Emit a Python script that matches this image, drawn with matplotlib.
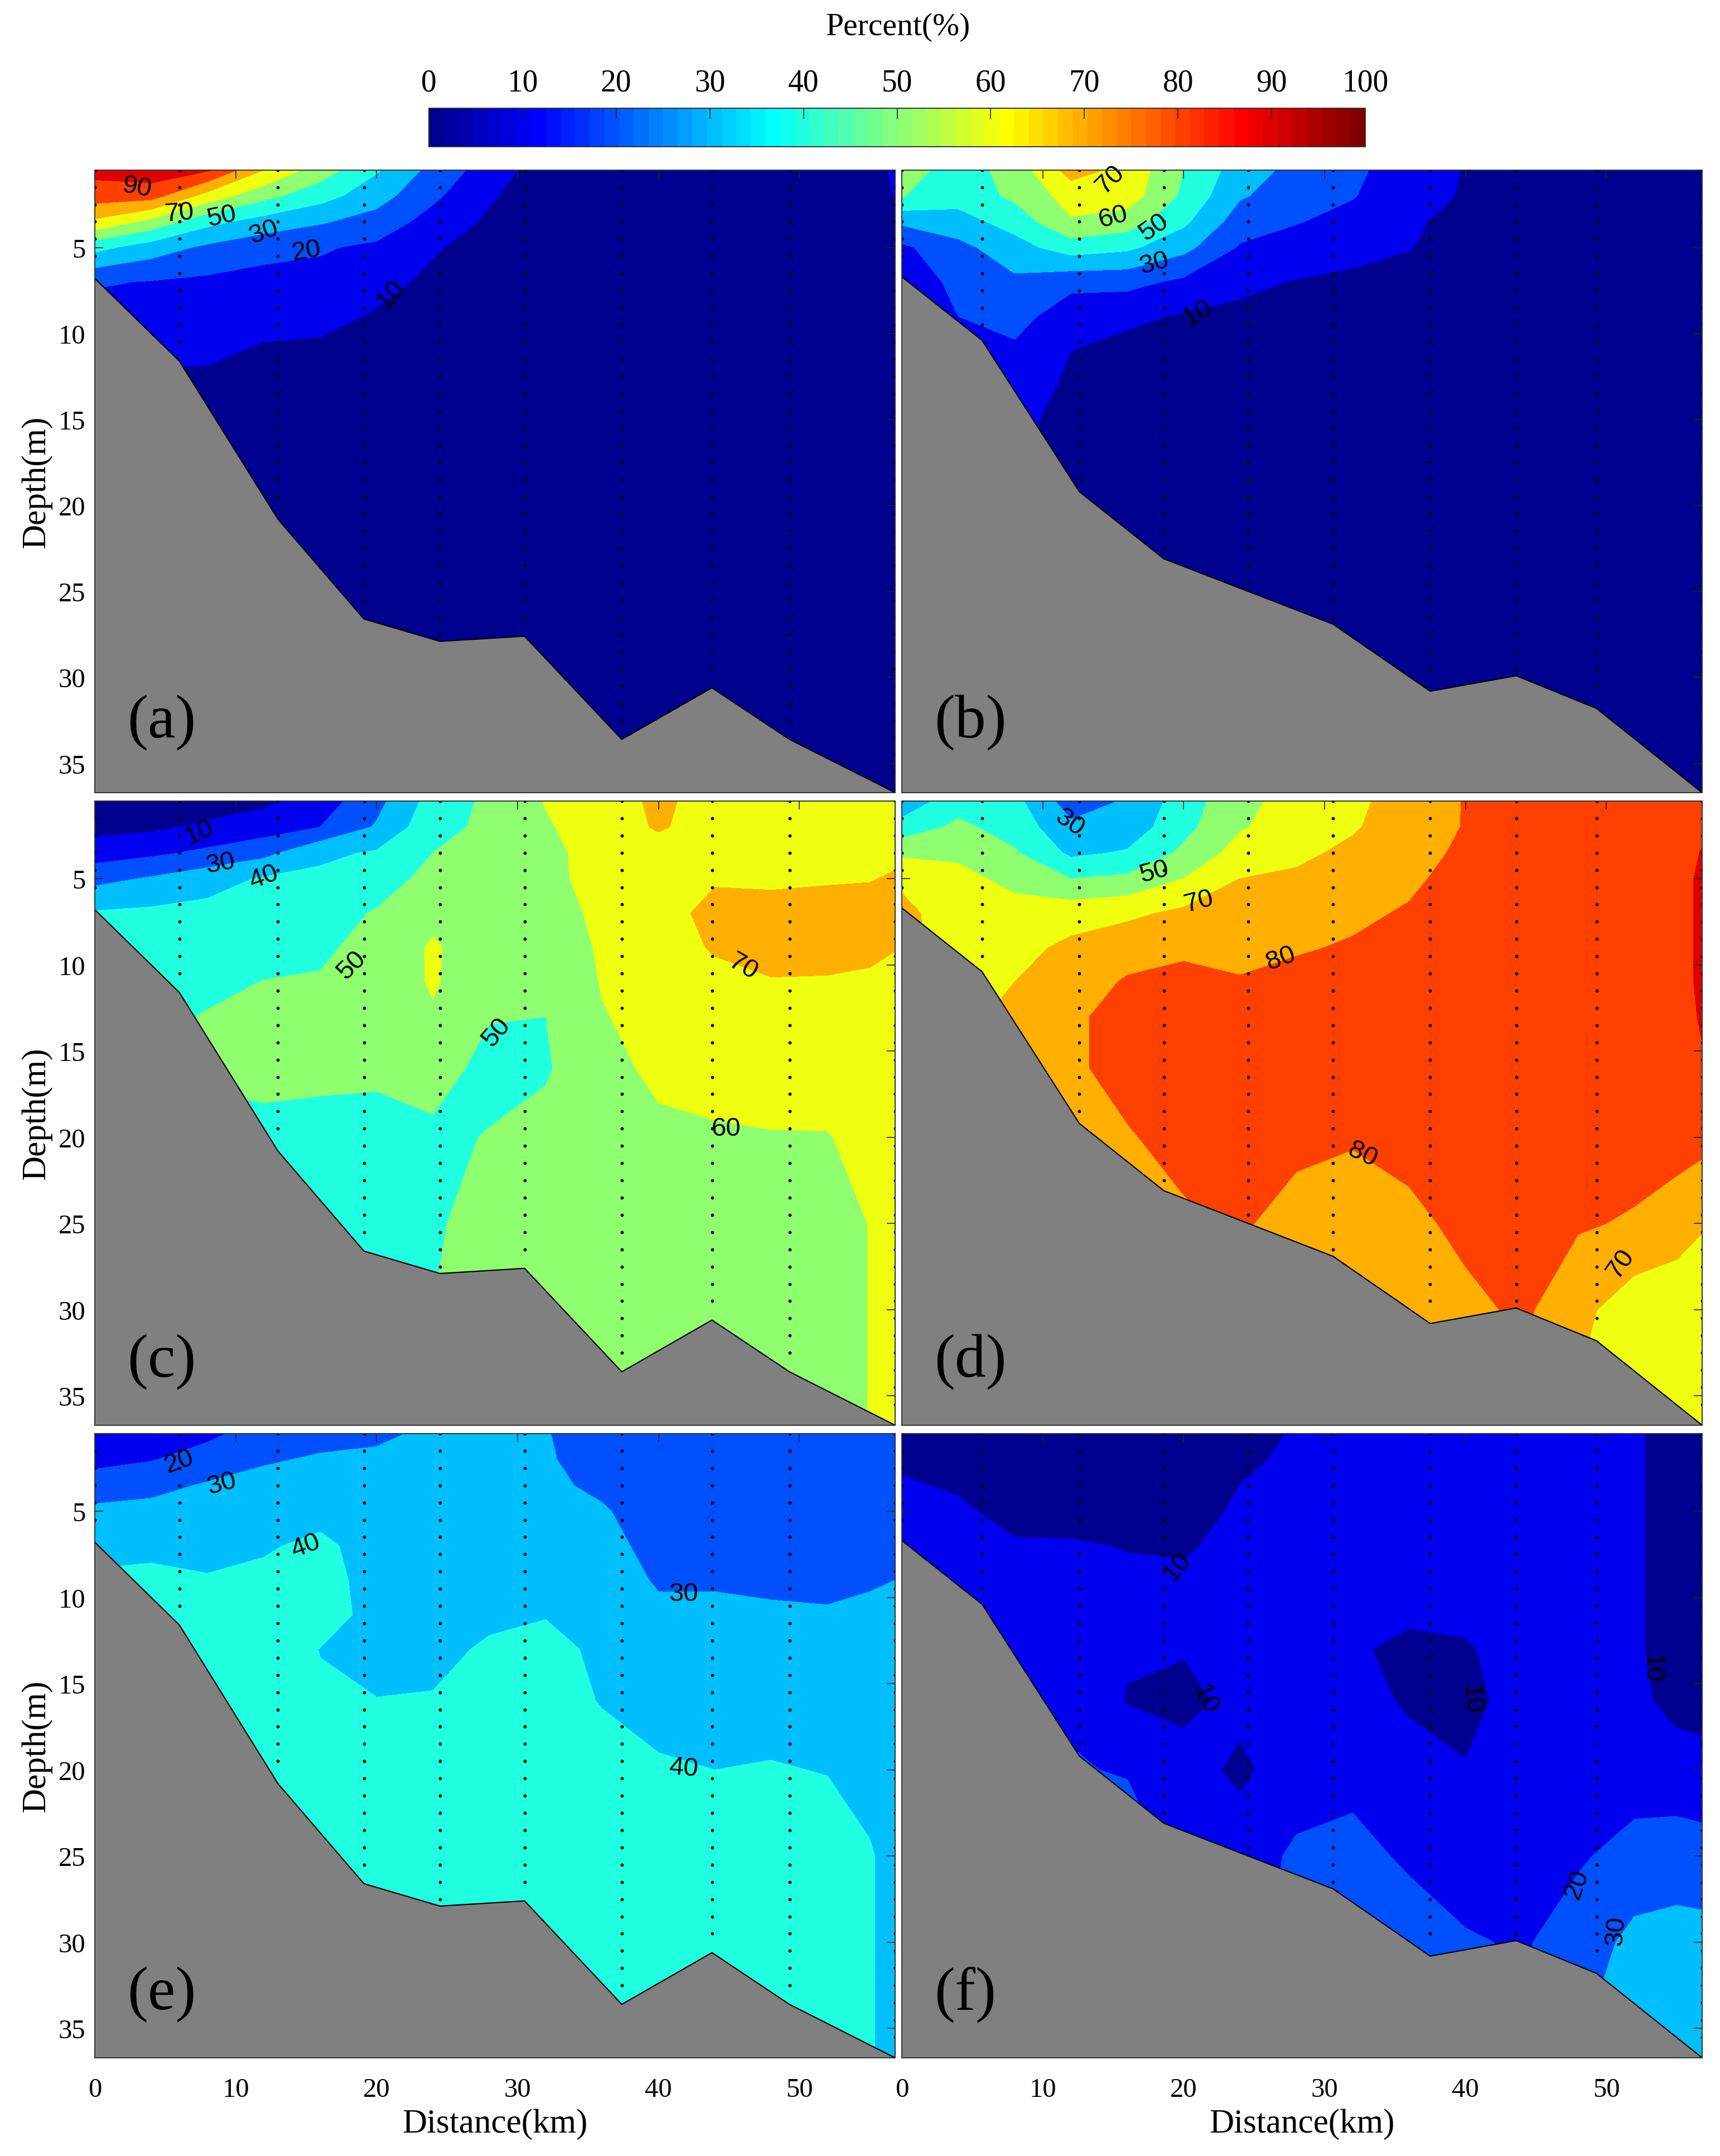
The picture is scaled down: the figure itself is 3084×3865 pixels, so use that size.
import numpy as np
import matplotlib
matplotlib.use('Agg')
import matplotlib.pyplot as plt
from matplotlib.cm import ScalarMappable
from matplotlib.colors import LinearSegmentedColormap, Normalize

plt.rcParams['font.family'] = ['Liberation Serif', 'DejaVu Serif']

W, H = 3084, 3866

# grid the percentages were read on
dist_grid = [0, 4, 8, 12, 16, 20, 24, 28, 32, 36, 40, 44, 48, 52, 55, 56.8]
depth_grid = [0.5, 2, 3.5, 5, 7, 9, 11, 13, 16, 20, 25, 30, 36.7]

# bottom profile, stations included
left_dist = [0, 6, 13, 19.1, 24.5, 30.5, 37.4, 43.8, 49.3, 56.8]
left_bottom = [6.8, 11.6, 20.8, 26.6, 27.9, 27.6, 33.6, 30.6, 33.6, 36.7]
right_dist = [0, 5.7, 12.6, 18.6, 24.6, 30.6, 37.5, 43.6, 49.3, 56.8]
right_bottom = [6.7, 10.4, 19.2, 23.1, 25.0, 26.9, 30.8, 29.9, 31.8, 36.7]

pct_a = [
    [93, 96, 91, 70, 55, 41, 27, 15, 5, 3, 3, 3, 3, 3, 5, 12],
    [85, 84, 66, 53, 44, 34, 22, 11, 5, 3, 3, 3, 3, 3, 4, 10.5],
    [68, 57, 43, 36, 31, 26, 16, 8.5, 4, 3, 3, 3, 3, 3, 3, 7],
    [43, 35, 28, 23, 21, 18, 11, 6, 4, 3, 3, 3, 3, 3, 3, 3],
    [21, 19.5, 18, 17, 17, 13, 8, 5, 3, 3, 3, 3, 3, 3, 3, 3],
    [16, 17, 14, 13, 13, 9, 7, 4, 3, 3, 3, 3, 3, 3, 3, 3],
    [14, 12, 11.5, 9, 8, 7, 5, 3, 3, 3, 3, 3, 3, 3, 3, 3],
    [12, 8, 8, 7, 6, 5, 4, 3, 3, 3, 3, 3, 3, 3, 3, 3],
    [8, 6, 5, 5, 4, 4, 3, 3, 3, 3, 3, 3, 3, 3, 3, 3],
    [5, 5, 4, 4, 3, 3, 3, 3, 3, 3, 3, 3, 3, 3, 3, 3],
    [3, 3, 3, 3, 3, 3, 3, 3, 3, 3, 3, 3, 3, 3, 3, 3],
    [3, 3, 3, 3, 3, 3, 3, 3, 3, 3, 3, 3, 3, 3, 3, 3],
    [3, 3, 3, 3, 3, 3, 3, 3, 3, 3, 3, 3, 3, 3, 3, 3],
]
pct_b = [
    [55, 45, 54, 74, 67, 50, 35, 27, 22, 15, 9.5, 4, 3, 3, 3, 3],
    [50.5, 44, 52, 64, 65, 48, 31, 25, 20.5, 14, 9, 4, 3, 3, 3, 3],
    [32, 36, 44, 59, 55, 42, 25, 20.5, 17, 12, 6, 4, 3, 3, 3, 3],
    [18, 27, 36, 45, 42, 33, 19, 16, 13, 10.5, 4, 3, 3, 3, 3, 3],
    [15, 22, 28, 23, 23, 18, 12, 9.5, 8, 6, 3, 3, 3, 3, 3, 3],
    [14, 20, 24, 14, 12, 9, 8, 6, 5, 4, 3, 3, 3, 3, 3, 3],
    [13, 17, 18, 10, 7, 7, 6, 5, 4, 3, 3, 3, 3, 3, 3, 3],
    [13, 16, 16, 8, 6, 5, 4, 4, 3, 3, 3, 3, 3, 3, 3, 3],
    [12, 14, 12, 5, 4, 4, 3, 3, 3, 3, 3, 3, 3, 3, 3, 3],
    [10, 10, 8, 4, 3, 3, 3, 3, 3, 3, 3, 3, 3, 3, 3, 3],
    [5, 5, 4, 3, 3, 3, 3, 3, 3, 3, 3, 3, 3, 3, 3, 3],
    [5, 5, 4, 3, 3, 3, 3, 3, 3, 3, 3, 3, 3, 3, 3, 3],
    [5, 5, 4, 3, 3, 3, 3, 3, 3, 3, 3, 3, 3, 3, 3, 3],
]
pct_c = [
    [3, 3, 4, 8, 15, 27, 44, 52, 60.5, 65, 72, 66, 66, 66, 66, 66],
    [7, 8, 12, 15, 20, 31, 47, 52, 59, 65, 71, 66, 66, 66, 66, 67],
    [15, 18, 22, 27, 38, 41, 50, 53, 58, 63, 66, 67, 67, 67, 66, 68],
    [27, 31, 36, 41, 42, 44, 54, 54, 57, 64, 66, 69, 69, 69, 69.5, 71],
    [41, 42, 43, 44, 45, 51, 58, 55, 56, 62, 66, 73, 72, 74, 74, 75],
    [44, 45, 46, 47, 48, 54, 61, 55, 55, 61, 65, 71, 73, 74, 72, 70.5],
    [45, 47, 48, 50.2, 51, 54, 61, 53, 52, 60.5, 64, 67, 69.5, 69, 68.5, 66],
    [46, 48, 50.5, 52, 53, 54, 59, 50.5, 50, 59.5, 63, 66, 67, 66, 66, 65],
    [46, 48, 52, 52, 52, 52, 54, 47, 49, 57, 62, 63, 64, 63, 64, 64],
    [46, 46, 46, 48, 47, 46, 48, 50.5, 53, 55, 58, 59, 59.5, 59.7, 62, 63],
    [46, 46, 46, 46, 45, 45, 49, 53, 54, 54, 55, 55, 56, 55, 60.3, 62],
    [46, 46, 46, 46, 45, 45, 50, 53, 54, 54, 55, 54, 55, 55, 60.3, 62],
    [46, 46, 46, 46, 45, 45, 50, 53, 54, 54, 54, 54, 54, 55, 60.3, 62],
]
pct_d = [
    [33, 46, 43, 25, 31, 45, 57, 64, 68, 74, 80.5, 85, 85, 85, 85, 86],
    [44, 52, 46, 32, 34, 47, 59, 65, 69, 75, 80.5, 85, 85, 85, 86, 88],
    [58, 58, 51, 38, 41, 52, 64, 68, 72, 76, 82, 85, 85, 85, 86, 90.5],
    [68.5, 63, 57, 50, 52, 60, 70, 71.5, 75, 78, 84, 86, 86, 86, 86, 92],
    [72, 66, 64, 66, 68, 72, 75, 75, 78, 81, 85, 86, 86, 86, 86, 92],
    [72, 67, 67, 72, 76, 78, 78, 79, 81, 83, 86, 86, 86, 86, 86, 92],
    [72, 68, 70, 75, 81, 83, 80.5, 83, 83, 85, 86, 86, 86, 86, 86, 92],
    [72, 68, 72, 78, 84, 85, 84, 85, 85, 86, 86, 86, 86, 86, 86, 91],
    [72, 70, 72, 78, 84, 86, 86, 86, 85, 85, 86, 86, 86, 86, 86, 89],
    [72, 70, 72, 77, 79, 84, 85, 84, 81, 84, 85, 86, 84, 84, 84, 83],
    [72, 70, 72, 75, 76, 78, 82, 74, 74, 77, 83, 86, 81, 79, 75, 71],
    [72, 70, 72, 75, 76, 76, 75, 70.5, 73, 73, 77, 82, 73, 64, 63, 62],
    [72, 70, 72, 75, 76, 76, 75, 70.5, 73, 73, 73, 78, 68, 60, 60, 62],
]
pct_e = [
    [13, 14, 18, 24, 27, 29, 31, 31, 30.5, 25, 22, 22, 22, 22, 22, 23],
    [17, 19.5, 24, 29, 31, 31, 32, 32, 31, 26, 23, 23, 23, 23, 23, 23.5],
    [25, 27, 31, 33, 34, 33, 33, 33, 32, 28, 24, 24, 24, 24, 24, 24],
    [32, 33, 34, 36, 37, 35, 34, 34, 33, 31, 25, 25, 25, 25, 25, 25],
    [38, 37, 36, 39, 42, 36, 35, 35, 34, 33, 27, 26, 26, 26, 26, 27],
    [41, 43, 41, 42, 43, 37, 36, 36.5, 36, 35, 29, 29, 28, 27.5, 29, 30],
    [42, 44, 44, 44, 44, 37, 37, 38.5, 39.5, 36, 32, 32, 31.5, 31, 32, 32.5],
    [43, 44, 45, 45, 39.8, 37.5, 38, 41, 43, 38, 34, 34, 34, 34, 34, 34],
    [44, 45, 45, 45, 41, 40.2, 40.5, 43, 44, 39.5, 37, 36.5, 37, 37, 36, 36],
    [45, 45, 45, 45, 44, 44, 44, 45, 45, 44, 41, 40, 40.5, 39.7, 38, 37],
    [45, 45, 45, 45, 45, 45, 45, 45, 45, 45, 45, 44, 44, 44, 40.5, 38],
    [45, 45, 45, 45, 45, 45, 45, 45, 45, 45, 45, 45, 45, 45, 40.5, 38],
    [45, 45, 45, 45, 45, 45, 45, 45, 45, 45, 45, 45, 45, 45, 40.5, 38],
]
pct_f = [
    [6, 5, 4, 3, 3, 3, 6, 11, 13, 13, 13, 13, 12, 11, 7, 6],
    [8.5, 6, 4, 3, 3, 3, 8, 12, 13, 13, 13, 13, 12, 11, 7, 6],
    [11, 9, 5, 4, 4, 4, 10, 13, 13, 13, 13, 13, 13, 11, 7, 6],
    [13, 11.5, 7, 6, 5, 6, 11.5, 13, 13, 13, 13, 13, 13, 11, 7, 6],
    [14, 13, 11, 11, 9.5, 9, 12.5, 13, 13, 13, 13, 13, 13, 11, 7, 6],
    [14, 13, 13, 13, 12, 11.5, 13, 13, 13, 13, 13, 13, 13, 11, 7, 6],
    [14, 13, 14, 15, 13, 12.5, 13, 13, 13, 11, 11, 13, 13, 11, 7, 6],
    [14, 14, 15, 16, 11, 10.5, 13, 13, 10.8, 8.5, 9.5, 12, 13, 11, 7, 6],
    [15, 15, 17, 18, 9.5, 8, 12, 13, 13, 9, 8.5, 12, 13, 11.5, 8, 8],
    [18, 18, 22, 21, 19, 13, 8.5, 14, 17, 13, 10.3, 14, 15, 16, 13, 12],
    [20, 20, 24, 23, 28, 16, 14, 22, 23, 18.5, 15, 16, 19, 23, 26, 25],
    [22, 22, 24, 24, 26, 18, 16, 23, 24, 25, 21, 19, 24, 33, 33, 33],
    [22, 22, 24, 24, 26, 18, 16, 23, 24, 25, 22, 22, 30, 36, 36, 36],
]

# contour labels by hand: distance, depth, text, angle
labels_a = [(3, 1.5, '90', -10), (6, 3, '70', 5), (9, 3.2, '50', 12), (12, 4.1, '30', 20), (15, 5.2, '20', 10), (21, 7.7, '10', 50)]
labels_b = [(14.8, 1, '70', 45), (15, 3.2, '60', 15), (17.9, 3.8, '50', 35), (17.9, 5.9, '30', 15), (21, 8.8, '10', 30)]
labels_c = [(7.4, 2.3, '10', 25), (8.9, 4.1, '30', 10), (12, 4.9, '40', 20), (18.2, 10, '50', 45), (28.5, 13.9, '50', 50), (44.8, 19.5, '60', 0), (46, 10.1, '70', -30)]
labels_d = [(11.9, 1.75, '30', -35), (17.9, 4.6, '50', 15), (21.1, 6.3, '70', 15), (26.9, 9.6, '80', 20), (32.7, 21, '80', -25), (51, 27.3, '70', 55)]
labels_e = [(6, 2.1, '20', 20), (9, 3.4, '30', 15), (15, 7, '40', 20), (41.8, 9.8, '30', 0), (41.8, 19.9, '40', -5)]
labels_f = [(19.5, 8.2, '10', 50), (21.5, 15.9, '10', -65), (40.4, 15.9, '10', -85), (53.2, 14.1, '10', -90), (47.9, 26.6, '20', 70), (50.7, 29.3, '30', 85)]

levels = np.arange(0, 101, 10)
ymin, ymax = 0.5, 36.7
xmax = 56.8

# MATLAB jet, 64 steps
jet64 = LinearSegmentedColormap.from_list('jet64', [
    (0, (0, 0, 0.5625)), (7/63, (0, 0, 1)), (23/63, (0, 1, 1)),
    (39/63, (1, 1, 0)), (55/63, (1, 0, 0)), (1, (0.5, 0, 0))], N=64)
fill_colors = [jet64(int(l*0.64)) for l in levels[:-1]]


def add_axes_px(x0, y0, x1, y1):
    return fig.add_axes([x0/W, 1 - y1/H, (x1 - x0)/W, (y1 - y0)/H])


def draw_panel(rect, pct, bx, bz, labels, tag, tag_y, bottom_row, left_col):
    ax = add_axes_px(*rect)
    ax.contourf(dist_grid, depth_grid, np.array(pct, dtype=float), levels=levels, colors=fill_colors)
    for x, z in zip(bx, bz):
        d = np.arange(0.5, z - 0.3, 1.0)
        ax.plot([x]*len(d), d, ls='none', marker='o', ms=3.2, color='k', zorder=3)
    ax.fill_between(bx, bz, ymax, color='#808080', lw=0, zorder=4)
    ax.plot(bx, bz, color='k', lw=1.6, zorder=5)
    for x, z, s, a in labels:
        ax.text(x, z, s, rotation=a, ha='center', va='center', fontsize=34,
                family='Liberation Sans', rotation_mode='anchor', zorder=6)
    ax.text(2.3, tag_y, tag, fontsize=80, ha='left', va='center', zorder=7)
    ax.set_xlim(0, xmax)
    ax.set_ylim(ymax, ymin)
    ax.set_xticks(range(0, 51, 10))
    ax.set_yticks(range(5, 36, 5))
    ax.tick_params(direction='in', length=11, width=1.2, top=True, right=True,
                   labelsize=35, color='#222222')
    ax.tick_params(axis='x', pad=25)
    ax.tick_params(axis='y', pad=12)
    if bottom_row:
        ax.set_xlabel('Distance(km)', fontsize=44, labelpad=8)
    else:
        ax.set_xticklabels([])
    if left_col:
        ax.set_ylabel('Depth(m)', fontsize=44, labelpad=8)
    else:
        ax.set_yticklabels([])
    for s in ax.spines.values():
        s.set_linewidth(1.4)
        s.set_color('#333333')
        s.set_zorder(8)
    return ax


fig = plt.figure(figsize=(W/100, H/100), dpi=100)

col_x = [(170, 1605), (1617, 3052)]
row_y = [(306, 1422), (1437, 2556), (2571, 3690)]

draw_panel((col_x[0][0], row_y[0][0], col_x[0][1], row_y[0][1]), pct_a, left_dist, left_bottom, labels_a, '(a)', 32.6, False, True)
draw_panel((col_x[1][0], row_y[0][0], col_x[1][1], row_y[0][1]), pct_b, right_dist, right_bottom, labels_b, '(b)', 32.6, False, False)
draw_panel((col_x[0][0], row_y[1][0], col_x[0][1], row_y[1][1]), pct_c, left_dist, left_bottom, labels_c, '(c)', 33, False, True)
draw_panel((col_x[1][0], row_y[1][0], col_x[1][1], row_y[1][1]), pct_d, right_dist, right_bottom, labels_d, '(d)', 33, False, False)
draw_panel((col_x[0][0], row_y[2][0], col_x[0][1], row_y[2][1]), pct_e, left_dist, left_bottom, labels_e, '(e)', 33, True, True)
draw_panel((col_x[1][0], row_y[2][0], col_x[1][1], row_y[2][1]), pct_f, right_dist, right_bottom, labels_f, '(f)', 33, True, False)

cax = add_axes_px(769, 195, 2448, 264)
cb = fig.colorbar(ScalarMappable(Normalize(0, 100), jet64), cax=cax, orientation='horizontal')
cb.set_ticks(range(0, 101, 10))
cax.xaxis.set_ticks_position('top')
cax.tick_params(direction='in', length=14, width=1.2, labelsize=40, pad=14, color='#222222')
cb.outline.set_linewidth(1.4)
cb.outline.set_edgecolor('#333333')
fig.text(1610/W, 1 - 49/H, 'Percent(%)', fontsize=41.5, ha='center', va='center')

fig.savefig('out.png', dpi=100)
